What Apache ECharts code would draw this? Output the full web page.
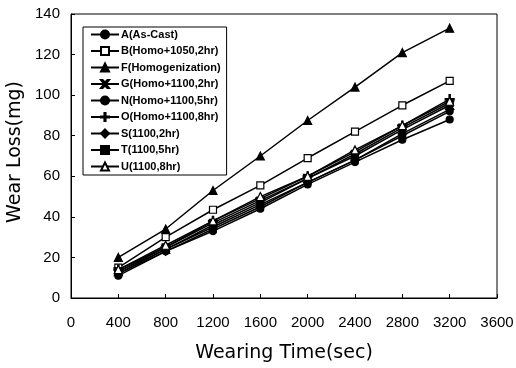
<!DOCTYPE html>
<html><head><meta charset="utf-8">
<script src="https://cdn.jsdelivr.net/npm/echarts@6/dist/echarts.min.js"></script>
<style>html,body{margin:0;padding:0;background:#fff}#c{width:516px;height:368px}</style>
</head><body><div id="c"></div>
<script>
var times = [400, 800, 1200, 1600, 2000, 2400, 2800, 3200];
var names = ['A(As-Cast)','B(Homo+1050,2hr)','F(Homogenization)','G(Homo+1100,2hr)','N(Homo+1100,5hr)','O(Homo+1100,8hr)','S(1100,2hr)','T(1100,5hr)','U(1100,8hr)'];
var A = [11, 23, 33, 44, 56, 67, 78, 88];
var B = [15, 30, 43.5, 55.5, 69, 82, 95, 107];
var F = [20, 34, 53, 70, 87.5, 104, 121, 133];
var G = [13, 24, 36, 47, 59, 70, 83, 95];
var N = [12, 24, 35, 46, 57, 68, 80, 92];
var O = [14, 25, 38, 49, 60, 72, 85, 98];
var S = [12, 23, 34, 45, 57, 68, 81, 93];
var T = [13, 25, 37, 48, 59, 71, 84, 96];
var U = [14, 26, 38, 50, 60, 73, 85, 97];
var xTicks = [0,400,800,1200,1600,2000,2400,2800,3200,3600];
var yTicks = [0,20,40,60,80,100,120,140];

var X_PATH = 'path://M0,0L2,0L5,3L8,0L10,0L6,5L10,10L8,10L5,7L2,10L0,10L4,5Z';
var PLUS_PATH = 'path://M4.3,0L5.7,0L5.7,4.3L10,4.3L10,5.7L5.7,5.7L5.7,10L4.3,10L4.3,5.7L0,5.7L0,4.3L4.3,4.3Z';
var specs = [
  {d:A, sym:'circle', fill:'#000', size:7},
  {d:B, sym:'rect', fill:'#fff', size:7},
  {d:F, sym:'triangle', fill:'#000', size:8},
  {d:G, sym:X_PATH, fill:'#000', size:8},
  {d:N, sym:'circle', fill:'#000', size:7},
  {d:O, sym:PLUS_PATH, fill:'#000', size:9},
  {d:S, sym:'diamond', fill:'#000', size:8},
  {d:T, sym:'rect', fill:'#000', size:7},
  {d:U, sym:'triangle', fill:'#fff', size:8}
];
var series = specs.map(function(s, i){
  return {
    name: names[i], type:'line',
    data: times.map(function(t, j){ return [t, s.d[j]]; }),
    symbol: s.sym, symbolSize: s.size, showSymbol:true,
    lineStyle:{color:'#000', width:1.5},
    itemStyle:{color:s.fill, borderColor:'#000', borderWidth:1.2},
    z: 2 + i
  };
});
var chart = echarts.init(document.getElementById('c'));
chart.setOption({
  animation:false,
  backgroundColor:'#fff',
  grid:{left:71, right:19, top:14, bottom:70, show:true, borderColor:'#000', borderWidth:1, containLabel:false, outerBoundsMode:'none'},
  legend:{
    orient:'vertical', left:83, top:27,
    itemWidth:28, itemHeight:10, itemGap:5.5,
    padding:[2,6,3,7],
    borderColor:'#000', borderWidth:1,
    textStyle:{fontFamily:'Liberation Sans', fontSize:11, lineHeight:10, fontWeight:'bold', color:'#000', padding:[0,0,0,-3]},
    data: names
  },
  xAxis:{
    type:'value', min:0, max:3600, interval:400,
    name:'Wearing Time(sec)', nameLocation:'middle', nameGap:46,
    nameTextStyle:{fontFamily:'DejaVu Sans', fontSize:19, color:'#000'},
    axisLine:{lineStyle:{color:'#000'}},
    axisTick:{inside:true, length:4, lineStyle:{color:'#000'}},
    axisLabel:{fontFamily:'Liberation Sans', fontSize:15, color:'#000', margin:17, formatter:function(v){return String(v);}},
    splitLine:{show:false}
  },
  yAxis:{
    type:'value', min:0, max:140, interval:20,
    name:'Wear Loss(mg)', nameLocation:'middle', nameGap:34,
    nameTextStyle:{fontFamily:'DejaVu Sans', fontSize:19, color:'#000', padding:[0,0,0,8]},
    axisLine:{show:true, lineStyle:{color:'#000'}},
    axisTick:{show:true, inside:true, length:4, lineStyle:{color:'#000'}},
    axisLabel:{fontFamily:'Liberation Sans', fontSize:15, color:'#000', margin:11},
    splitLine:{show:false}
  },
  series: series
});
</script></body></html>
